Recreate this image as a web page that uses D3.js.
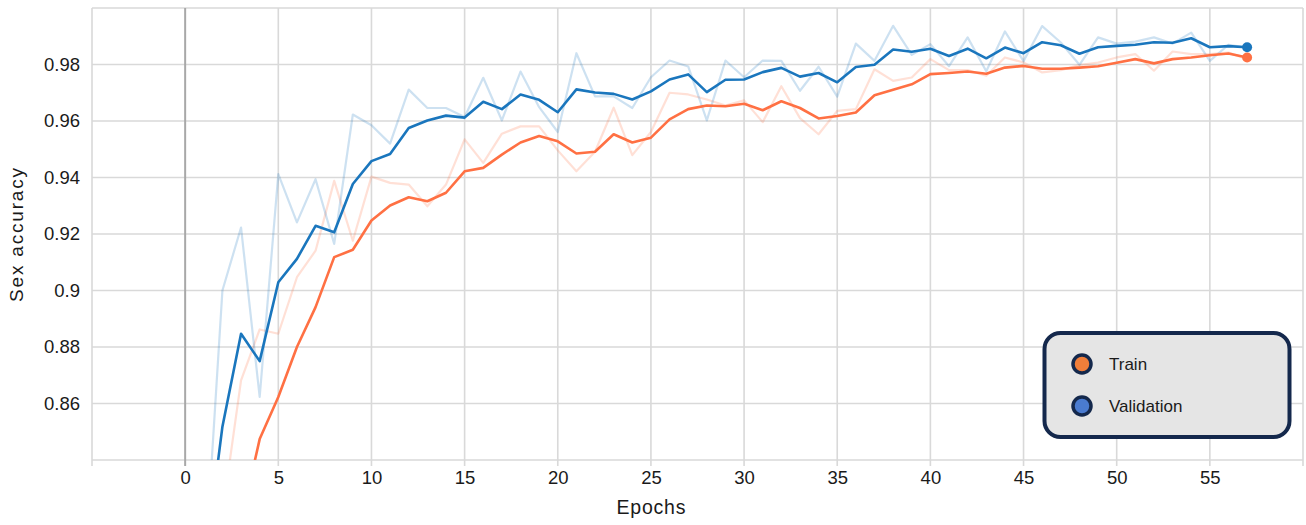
<!DOCTYPE html>
<html>
<head>
<meta charset="utf-8">
<script src="https://cdn.jsdelivr.net/npm/d3@7"></script>
<style>
  html, body { margin: 0; padding: 0; background: #fff; }
  svg { display: block; font-family: "Liberation Sans", Arial, Helvetica, sans-serif; }
</style>
</head>
<body>
<svg id="chart" width="1306" height="525"></svg>
<script>
// Epoch index for every logged point
const epochs = d3.range(1, 58);

// Per-epoch sex-classification accuracy (raw values)
const trainRaw = [
  0.720, 0.821, 0.8682, 0.8862, 0.8847, 0.9047, 0.9141, 0.9388, 0.9176, 0.9403,
  0.9381, 0.9375, 0.9298, 0.9375, 0.9535, 0.9452, 0.9555, 0.9581, 0.9581, 0.9496,
  0.9422, 0.9491, 0.9647, 0.9479, 0.9561, 0.9700, 0.9694, 0.9676, 0.9655, 0.9673,
  0.9596, 0.9723, 0.9610, 0.9553, 0.9636, 0.9642, 0.9783, 0.9742, 0.9754, 0.9819,
  0.9780, 0.9780, 0.9760, 0.9825, 0.9807, 0.9772, 0.9780, 0.9798, 0.9807, 0.9825,
  0.9837, 0.9778, 0.9846, 0.9837, 0.9837, 0.9842, 0.9819
];
const valRaw = [
  0.795, 0.900, 0.9223, 0.8623, 0.9412, 0.9241, 0.9394, 0.9165, 0.9623, 0.9585,
  0.9520, 0.9711, 0.9646, 0.9646, 0.9614, 0.9753, 0.9602, 0.9775, 0.9649, 0.9561,
  0.9840, 0.9687, 0.9687, 0.9646, 0.9755, 0.9814, 0.9793, 0.9602, 0.9814, 0.9755,
  0.9814, 0.9813, 0.9707, 0.9792, 0.9686, 0.9874, 0.9813, 0.9937, 0.9834, 0.9872,
  0.9794, 0.9896, 0.9776, 0.9917, 0.9812, 0.9936, 0.9878, 0.9799, 0.9896, 0.9874,
  0.9881, 0.9896, 0.9874, 0.9913, 0.9813, 0.9870, 0.9860
];

// Smoothed curves
const trainSmooth = [
  0.720, 0.770, 0.818, 0.8474, 0.8623, 0.8800, 0.8941, 0.9118, 0.9144, 0.9248,
  0.9301, 0.9330, 0.9316, 0.9346, 0.9422, 0.9434, 0.9481, 0.9524, 0.9547, 0.9528,
  0.9485, 0.9491, 0.9553, 0.9524, 0.9541, 0.9606, 0.9642, 0.9655, 0.9652, 0.9661,
  0.9638, 0.9670, 0.9646, 0.9609, 0.9618, 0.9630, 0.9691, 0.9711, 0.9730, 0.9766,
  0.9770, 0.9775, 0.9767, 0.9789, 0.9795, 0.9785, 0.9785, 0.9789, 0.9794, 0.9806,
  0.9819, 0.9804, 0.9819, 0.9825, 0.9833, 0.9839, 0.9825
];
const valSmooth = [
  0.800, 0.8518, 0.8847, 0.8750, 0.9029, 0.9112, 0.9229, 0.9206, 0.9377, 0.9458,
  0.9483, 0.9575, 0.9602, 0.9619, 0.9612, 0.9668, 0.9642, 0.9694, 0.9675, 0.9631,
  0.9712, 0.9701, 0.9696, 0.9676, 0.9705, 0.9747, 0.9765, 0.9702, 0.9746, 0.9747,
  0.9773, 0.9788, 0.9757, 0.9770, 0.9737, 0.9791, 0.9799, 0.9853, 0.9845, 0.9856,
  0.9830, 0.9856, 0.9822, 0.9860, 0.9840, 0.9879, 0.9868, 0.9838, 0.9861, 0.9866,
  0.9870, 0.9879, 0.9877, 0.9893, 0.9861, 0.9865, 0.9861
];

// Axis ticks
const xTicks = [0, 5, 10, 15, 20, 25, 30, 35, 40, 45, 50, 55];
const xGrid = [-5, 0, 5, 10, 15, 20, 25, 30, 35, 40, 45, 50, 55, 60];
const yTicks = [0.86, 0.88, 0.9, 0.92, 0.94, 0.96, 0.98];
const yTickLabels = ["0.86", "0.88", "0.9", "0.92", "0.94", "0.96", "0.98"];
const yGrid = [0.84, 0.86, 0.88, 0.9, 0.92, 0.94, 0.96, 0.98, 1.0];

const seriesNames = ["Train", "Validation"];
const lineColors = ["#ff7043", "#1a76bd"];
const legendColors = ["#f07e3a", "#4a7bd0"];

const svg = d3.select("#chart");
const plotLeft = 92, plotRight = 1303, plotTop = 8, plotBottom = 460;

const x = d3.scaleLinear().domain([-5, 60]).range([plotLeft, plotRight]);
const y = d3.scaleLinear().domain([0.84, 1.0]).range([plotBottom, plotTop]);

// Grid
const grid = svg.append("g");
grid.selectAll("line.h").data(yGrid).join("line")
  .attr("class", "h")
  .attr("x1", plotLeft).attr("x2", plotRight)
  .attr("y1", d => y(d)).attr("y2", d => y(d))
  .attr("stroke", "#d9d9d9").attr("stroke-width", 1.6);
grid.selectAll("line.v").data(xGrid).join("line")
  .attr("class", "v")
  .attr("x1", d => x(d)).attr("x2", d => x(d))
  .attr("y1", plotTop).attr("y2", plotBottom + 6)
  .attr("stroke", d => d === 0 ? "#a8a8a8" : "#d9d9d9")
  .attr("stroke-width", d => d === 0 ? 2 : 1.6);

// X axis labels
const xAxis = svg.append("g").attr("transform", `translate(0,${plotBottom})`)
  .call(d3.axisBottom(x).tickValues(xTicks).tickSize(0).tickPadding(11));
xAxis.select(".domain").remove();
xAxis.selectAll("text").attr("font-size", 18.5).attr("fill", "#1a1a1a")
  .attr("font-family", "Liberation Sans, Arial, sans-serif");

// Y axis labels
const yAxis = svg.append("g").attr("transform", `translate(${plotLeft},0)`)
  .call(d3.axisLeft(y).tickValues(yTicks).tickSize(0).tickPadding(12)
    .tickFormat((d, i) => yTickLabels[i]));
yAxis.select(".domain").remove();
yAxis.selectAll("text").attr("font-size", 18.5).attr("fill", "#1a1a1a")
  .attr("font-family", "Liberation Sans, Arial, sans-serif");

// Axis titles
svg.append("text").attr("x", 651).attr("y", 514)
  .attr("text-anchor", "middle").attr("font-size", 19.5).attr("fill", "#1a1a1a")
  .attr("textLength", 69).attr("lengthAdjust", "spacing")
  .text("Epochs");
svg.append("text")
  .attr("transform", "translate(22.5,235) rotate(-90)")
  .attr("text-anchor", "middle").attr("font-size", 19).attr("fill", "#1a1a1a")
  .attr("textLength", 134).attr("lengthAdjust", "spacing")
  .text("Sex accuracy");

// Lines, clipped to the plotting area
svg.append("clipPath").attr("id", "plot-clip").append("rect")
  .attr("x", plotLeft).attr("y", plotTop)
  .attr("width", plotRight - plotLeft).attr("height", plotBottom - plotTop);

const plot = svg.append("g").attr("clip-path", "url(#plot-clip)");
const line = d3.line().x((d, i) => x(epochs[i])).y(d => y(d));

const rawSeries = [trainRaw, valRaw];
const smoothSeries = [trainSmooth, valSmooth];

rawSeries.forEach((s, k) => {
  plot.append("path").datum(s).attr("d", line)
    .attr("fill", "none").attr("stroke", lineColors[k])
    .attr("stroke-opacity", 0.22).attr("stroke-width", 2.2)
    .attr("stroke-linejoin", "round");
});
smoothSeries.forEach((s, k) => {
  plot.append("path").datum(s).attr("d", line)
    .attr("fill", "none").attr("stroke", lineColors[k])
    .attr("stroke-width", 2.6).attr("stroke-linejoin", "round");
});
smoothSeries.forEach((s, k) => {
  plot.append("circle")
    .attr("cx", x(epochs[epochs.length - 1])).attr("cy", y(s[s.length - 1]))
    .attr("r", 5).attr("fill", lineColors[k]);
});

// Legend
const lg = svg.append("g");
lg.append("rect").attr("x", 1044.5).attr("y", 333).attr("width", 245).attr("height", 104)
  .attr("rx", 16).attr("ry", 16)
  .attr("fill", "#e5e5e5").attr("stroke", "#14284c").attr("stroke-width", 4);
seriesNames.forEach((name, i) => {
  const cy = 364 + i * 42;
  lg.append("circle").attr("cx", 1082).attr("cy", cy).attr("r", 9)
    .attr("fill", legendColors[i]).attr("stroke", "#14284c").attr("stroke-width", 3.5);
  lg.append("text").attr("x", 1109).attr("y", cy).attr("dy", "0.35em")
    .attr("font-size", 17).attr("fill", "#1a1a1a").text(name);
});
</script>
</body>
</html>
